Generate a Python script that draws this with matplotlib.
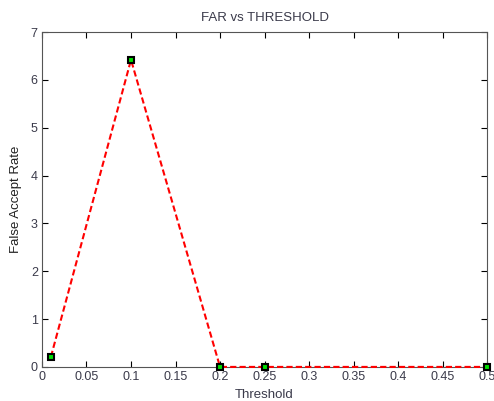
import matplotlib.pyplot as plt
import numpy as np

plt.rcParams['font.family'] = ['Liberation Sans', 'DejaVu Sans']

threshold = [0.01, 0.1, 0.2, 0.25, 0.5]
far = [0.21, 6.42, 0, 0, 0]
xticks = [0, 0.05, 0.1, 0.15, 0.2, 0.25, 0.3, 0.35, 0.4, 0.45, 0.5]
xticklabels = ['0', '0.05', '0.1', '0.15', '0.2', '0.25', '0.3', '0.35', '0.4', '0.45', '0.5']
yticks = [0, 1, 2, 3, 4, 5, 6, 7]

txt = '#3a3a4a'
fig = plt.figure(figsize=(4.94, 4.01), dpi=100)
ax = fig.add_axes([0.085, 0.085, 0.901, 0.835])

ax.plot(threshold, far, color='red', linestyle='--', linewidth=1.5, dashes=(3, 1.5),
        marker='s', markersize=5, markerfacecolor='#00e000', markeredgecolor='black',
        markeredgewidth=1.5, clip_on=False, zorder=3)

ax.set_xlim(0, 0.5)
ax.set_ylim(0, 7)
ax.set_xticks(xticks)
ax.set_xticklabels(xticklabels)
ax.set_yticks(yticks)
ax.tick_params(direction='in', length=4, width=0.8, top=True, right=True,
               labelsize=9, labelcolor=txt, color='black', pad=3)
for s in ax.spines.values():
    s.set_color('#555555')
    s.set_linewidth(0.8)

ax.set_title('FAR vs THRESHOLD', fontsize=9.5, color=txt, pad=8)
ax.set_xlabel('Threshold', fontsize=9.5, color=txt, labelpad=4)
ax.set_ylabel('False Accept Rate', fontsize=9.5, color='#202020', labelpad=6)

plt.savefig('out.png', dpi=100)
